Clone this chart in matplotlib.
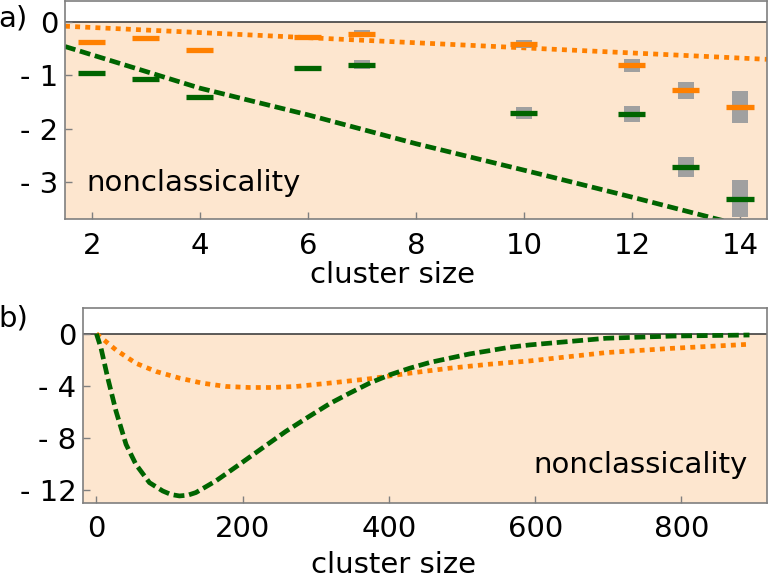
import matplotlib
matplotlib.use("Agg")
import matplotlib.pyplot as plt
import numpy as np

# ---- panel a data ----
sizes_a = [2, 3, 4, 6, 7, 10, 12, 13, 14]
orange_vals = [-0.37, -0.30, -0.52, -0.29, -0.22, -0.41, -0.81, -1.28, -1.59]
orange_err = [0.0, 0.0, 0.0, 0.03, 0.06, 0.075, 0.125, 0.16, 0.30]
green_vals = [-0.95, -1.06, -1.40, -0.87, -0.80, -1.71, -1.73, -2.71, -3.31]
green_err = [0.0, 0.0, 0.0, 0.05, 0.087, 0.11, 0.15, 0.19, 0.35]
orange_fit_x = [1.5, 14.5]
orange_fit_y = [-0.08, -0.70]
green_fit_x = [1.5, 4, 6, 8, 10.3, 12, 13.57, 14.5]
green_fit_y = [-0.46, -1.24, -1.74, -2.28, -2.85, -3.28, -3.69, -3.93]
xticks_a = [2, 4, 6, 8, 10, 12, 14]
yticks_a = [0, -1, -2, -3]
yticklabels_a = ["0", "- 1", "- 2", "- 3"]

# ---- panel b data ----
orange_b_x = [0, 26.8, 54, 81.5, 113.5, 145, 177, 209, 241, 273, 319, 373.7, 428.4, 483, 537.8, 592.6, 697, 788, 893]
orange_b_y = [0, -1.25, -2.27, -2.90, -3.41, -3.80, -4.05, -4.13, -4.13, -4.05, -3.79, -3.46, -3.03, -2.65, -2.34, -2.09, -1.45, -1.12, -0.81]
green_b_x = [0, 6.3, 15.5, 26.8, 40.5, 54, 72.5, 90.7, 102, 113.5, 125, 136, 163.5, 195.5, 227.4, 259, 291, 319, 346.4, 373.7, 401, 428.4, 455.8, 483, 510.5, 537.8, 565, 592.6, 697, 788, 893]
green_b_y = [0, -1.12, -3.41, -5.96, -8.5, -10.04, -11.44, -12.08, -12.35, -12.46, -12.4, -12.2, -11.3, -10.04, -8.76, -7.5, -6.35, -5.37, -4.56, -3.79, -3.16, -2.65, -2.21, -1.88, -1.55, -1.30, -1.04, -0.86, -0.35, -0.18, -0.10]
xticks_b = [0, 200, 400, 600, 800]
yticks_b = [0, -4, -8, -12]
yticklabels_b = ["0", "- 4", "- 8", "- 12"]

peach = "#fde6cf"
orange = "#ff8000"
green = "#006400"
gray_err = "#a0a0a0"
spine_c = "#7f7f7f"
FS = 21

plt.rcParams['font.family'] = ['DejaVu Sans']

fig = plt.figure(figsize=(7.69, 5.78), dpi=100)
ax1 = fig.add_axes([0.0845, 0.6211, 0.9129, 0.3779])
ax2 = fig.add_axes([0.1083, 0.1298, 0.8891, 0.3379])

dot_style = dict(color=orange, lw=3.4, linestyle=(0, (1.05, 1.1)), dash_capstyle='butt')
dash_style = dict(color=green, lw=3.4, linestyle=(0, (2.3, 1.0)), dash_capstyle='butt')

for ax in (ax1, ax2):
    ax.axhspan(-100, 0, color=peach, zorder=0, lw=0)
    for s in ax.spines.values():
        s.set_color(spine_c)
        s.set_linewidth(1.2)
    ax.tick_params(direction='in', length=5, width=1, color=spine_c,
                   labelsize=FS, top=False, right=False)
    ax.tick_params(axis='x', pad=9)
    ax.tick_params(axis='y', pad=5)

# panel a
ax1.axhline(0, color="#404040", lw=1.2, zorder=1)
ax1.plot(orange_fit_x, orange_fit_y, zorder=2, **dot_style)
ax1.plot(green_fit_x, green_fit_y, zorder=2, **dash_style)
for xs, ys, es, c in ((sizes_a, orange_vals, orange_err, orange),
                      (sizes_a, green_vals, green_err, green)):
    xs = np.array(xs, float); ys = np.array(ys); es = np.array(es)
    m = es > 0
    ax1.bar(xs[m], 2 * es[m], bottom=ys[m] - es[m], width=0.3, color=gray_err, zorder=3, lw=0)
    ax1.hlines(ys, xs - 0.25, xs + 0.25, color=c, lw=3.8, zorder=4, capstyle='butt')
ax1.set_xlim(1.5, 14.5)
ax1.set_ylim(-3.69, 0.4)
ax1.set_xticks(xticks_a)
ax1.set_yticks(yticks_a)
ax1.set_yticklabels(yticklabels_a)
ax1.set_xlabel("cluster size", fontsize=FS)
ax1.xaxis.set_label_coords(0.467, -0.292)
ax1.xaxis.label.set_va('baseline')
ax1.text(0.03, 0.13, "nonclassicality", transform=ax1.transAxes, fontsize=FS, va='baseline', ha='left')

# panel b
ax2.axhline(0, color="#404040", lw=1.2, zorder=1)
ax2.plot(orange_b_x, orange_b_y, zorder=2, **dot_style)
ax2.plot(green_b_x, green_b_y, zorder=2, **dash_style)
ax2.set_xlim(-18, 917)
ax2.set_ylim(-13, 2)
ax2.set_xticks(xticks_b)
ax2.set_yticks(yticks_b)
ax2.set_yticklabels(yticklabels_b)
ax2.set_xlabel("cluster size", fontsize=FS)
ax2.xaxis.set_label_coords(0.453, -0.36)
ax2.xaxis.label.set_va('baseline')
ax2.text(0.972, 0.153, "nonclassicality", transform=ax2.transAxes, fontsize=FS, va='baseline', ha='right')

fig.text(-0.002, 0.955, "a)", fontsize=FS, va='baseline', ha='left')
fig.text(-0.002, 0.435, "b)", fontsize=FS, va='baseline', ha='left')

fig.savefig("out.png", dpi=100)
